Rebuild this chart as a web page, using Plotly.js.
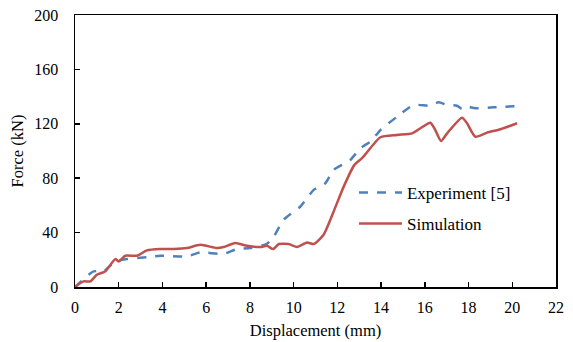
<!DOCTYPE html>
<html><head><meta charset="utf-8">
<script src="https://cdn.plot.ly/plotly-3.0.1.min.js"></script>
<style>body{margin:0;background:#fff}#c{width:573px;height:342px}</style>
</head><body><div id="c"></div>
<script>
const expX = [0, 0.85, 1.31, 1.84, 2.38, 3.29, 3.9, 5.12, 5.73, 6.8, 7.41, 8.02, 8.78, 9.09, 9.54, 10.31, 10.92, 11.45, 11.83, 12.59, 13.05, 13.51, 13.97, 14.73, 15.49, 16.25, 16.63, 17.02, 17.47, 17.7, 17.93, 18.31, 19.15, 20.22];
const expY = [0, 11.5, 11.5, 18.8, 20.5, 22, 23, 22.5, 25.4, 24.4, 27.9, 28.6, 31.8, 37, 49.4, 59.2, 71.4, 76.3, 86.1, 93.4, 102, 106.9, 115.4, 125.2, 133.8, 133.3, 135.8, 133.8, 133.3, 130.9, 132.6, 131.4, 132.1, 133.1];
const simX = [0, 0.39, 0.7, 1.0, 1.39, 1.84, 2.0, 2.3, 2.84, 3.29, 3.9, 4.51, 5.12, 5.73, 6.5, 6.8, 7.33, 7.87, 8.48, 8.78, 9.06, 9.32, 9.77, 10.16, 10.61, 10.92, 11.37, 11.83, 12.29, 12.78, 13.13, 13.97, 14.73, 15.42, 15.8, 16.25, 16.48, 16.74, 17.02, 17.7, 17.93, 18.31, 18.85, 19.46, 20.22];
const simY = [0, 4.1, 4.1, 9, 11.5, 20.5, 18.8, 23, 23, 26.9, 27.9, 27.9, 28.6, 31, 28.6, 29.4, 32.3, 30.3, 29.4, 30.3, 27.9, 31.6, 31.6, 29.4, 32.7, 31.6, 38.4, 55.5, 73.8, 89.8, 94.7, 110.1, 111.8, 113, 116.7, 120.8, 115.4, 107.4, 113, 124.5, 120.4, 110.5, 113.5, 116, 120.4];
const xTicks = [0, 2, 4, 6, 8, 10, 12, 14, 16, 18, 20, 22];
const yTicks = [0, 40, 80, 120, 160, 200];

const fam = '"Liberation Serif", "Times New Roman", serif';
const font = {family: fam, size: 16, color: '#000'};
const titleFont = {family: fam, size: 16.5, color: '#000'};
const traces = [
  {x: expX, y: expY, name: 'Experiment [5]', mode: 'lines', legendgroup: 'a',
   line: {color: '#4F81BD', width: 2.5, dash: 'dash', shape: 'spline', smoothing: 0.6}},
  {x: simX, y: simY, name: 'Simulation', mode: 'lines', legendgroup: 'b',
   line: {color: '#C0504D', width: 2.5, shape: 'spline', smoothing: 0.6}}
];
const axisCommon = {showline: true, linecolor: '#000', linewidth: 1.5, mirror: true, ticks: 'inside',
  ticklen: 5, tickwidth: 1.5, tickcolor: '#000', showgrid: false, zeroline: false, tickfont: font};
const layout = {
  width: 573, height: 342,
  margin: {l: 75, r: 17, t: 15, b: 55},
  paper_bgcolor: '#fff', plot_bgcolor: '#fff',
  font: font,
  xaxis: Object.assign({}, axisCommon, {range: [0, 22], tickvals: xTicks, ticktext: xTicks.map(String),
    ticklabelstandoff: 5, title: {text: 'Displacement (mm)', font: titleFont, standoff: 9}}),
  yaxis: Object.assign({}, axisCommon, {range: [0, 200], tickvals: yTicks, ticktext: yTicks.map(String),
    ticklabelstandoff: 12, title: {text: 'Force (kN)', font: titleFont, standoff: 6}}),
  showlegend: true,
  legend: {x: 0.58, y: 0.412, xanchor: 'left', yanchor: 'top', bgcolor: 'rgba(0,0,0,0)',
    font: {family: fam, size: 17, color: '#000'}, traceorder: 'grouped', tracegroupgap: 6,
    itemwidth: 43}
};
Plotly.newPlot('c', traces, layout, {displayModeBar: false, staticPlot: true});
</script></body></html>
